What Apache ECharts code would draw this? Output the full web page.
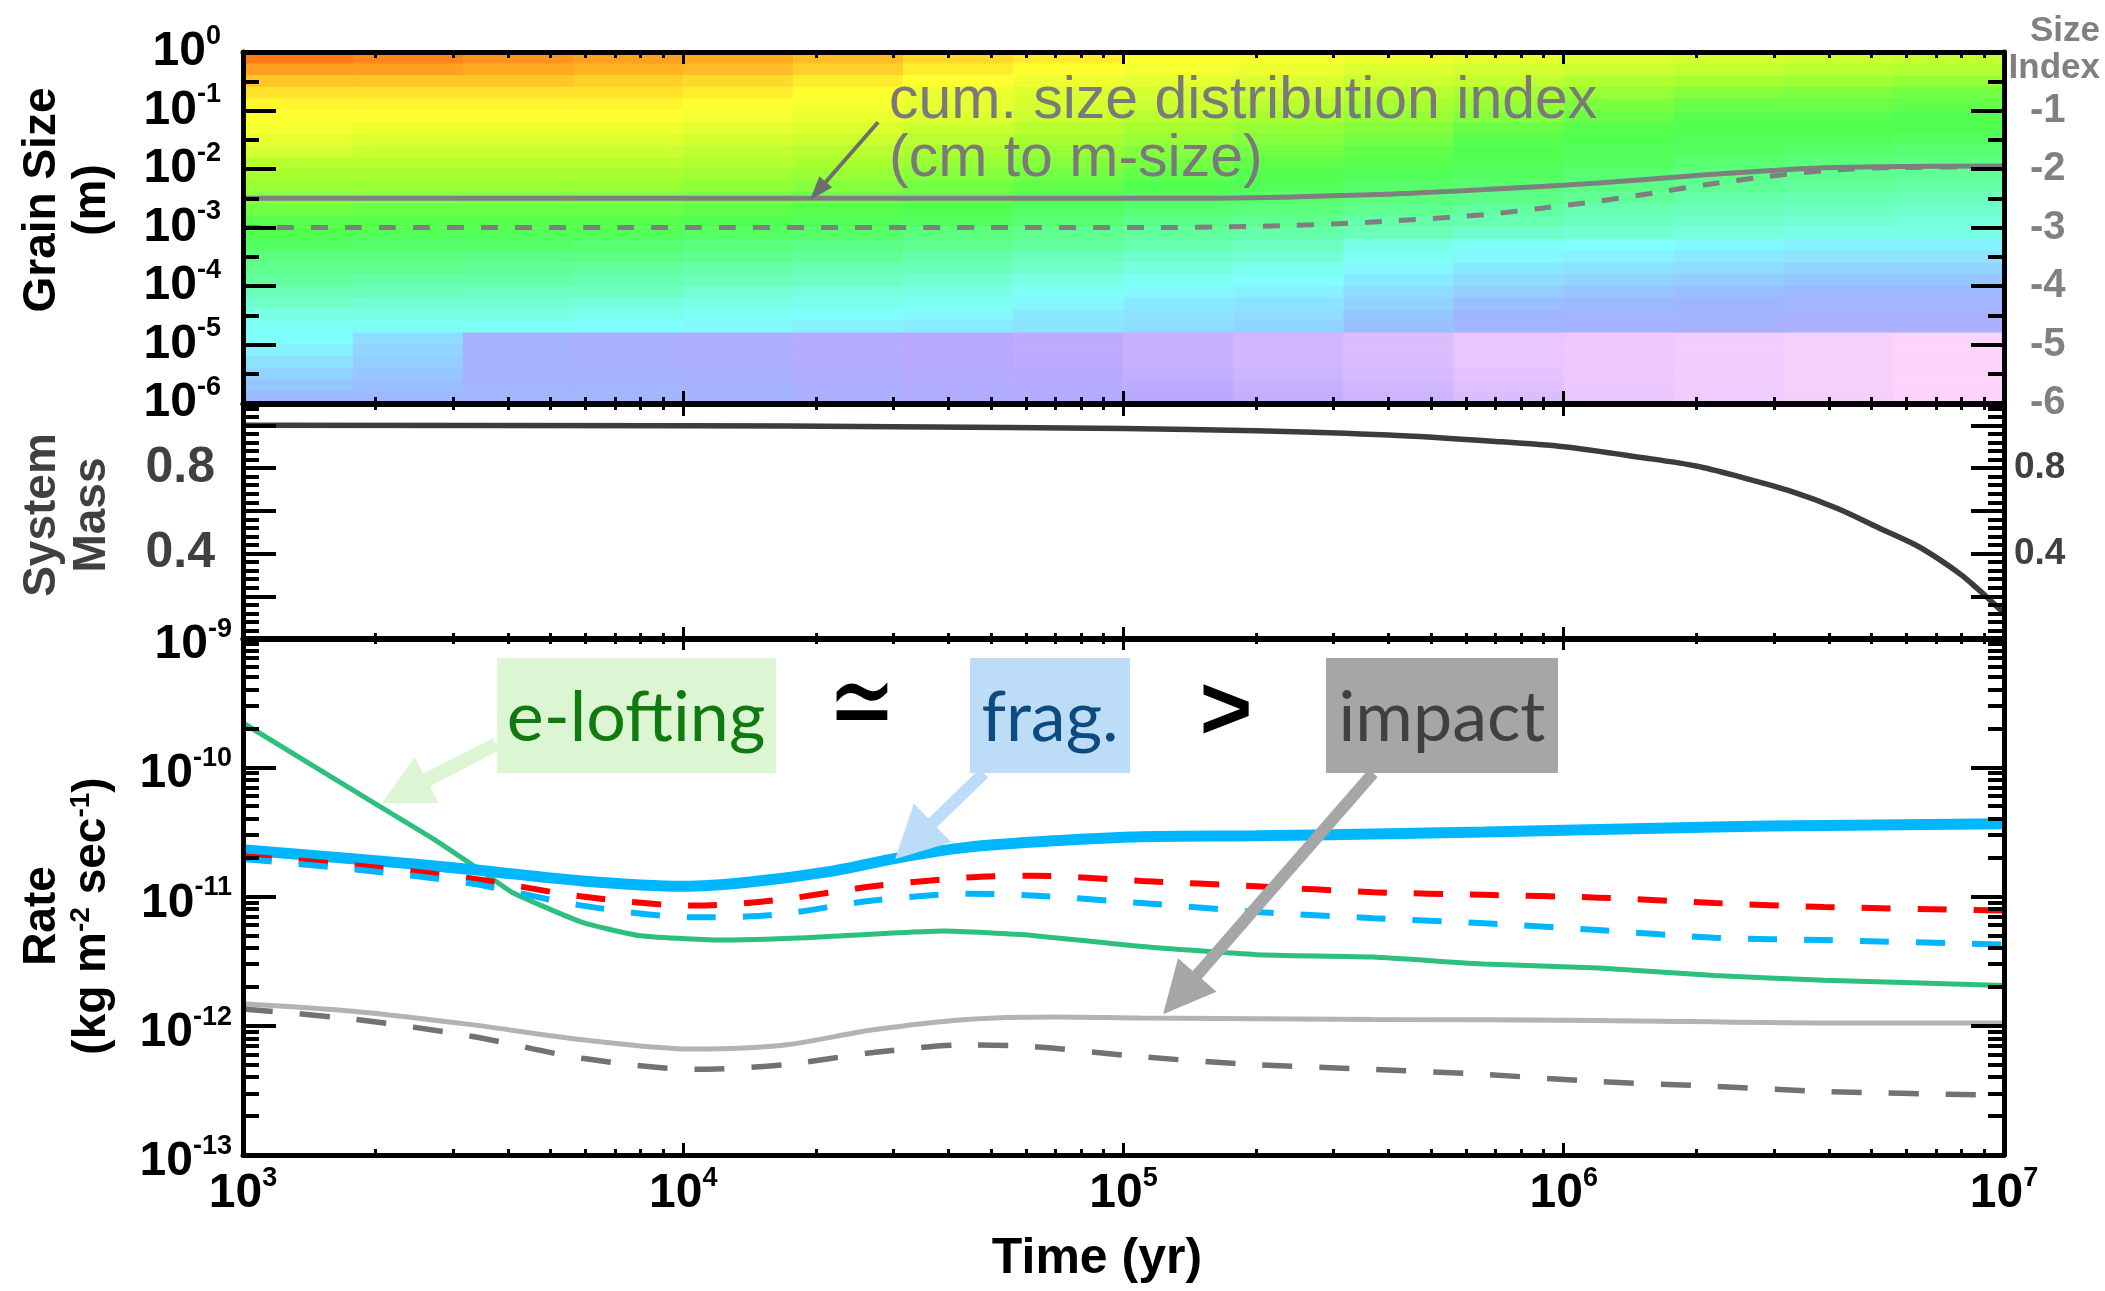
<!DOCTYPE html>
<html><head><meta charset="utf-8">
<script src="https://cdn.jsdelivr.net/npm/echarts@6/dist/echarts.min.js"></script>
<style>html,body{margin:0;padding:0;background:#fff}#c{width:2105px;height:1291px}</style>
</head><body><div id="c"></div>
<script>
// ---------------- DATA ----------------
// Grain-size map (top panel): columns = time bins (start of bin, 0.25 dex wide), rows = log10 size (m) bin centres, top -> bottom
const heatTimeBins = ['1.0e3','1.8e3','3.2e3','5.6e3','1.0e4','1.8e4','3.2e4','5.6e4','1.0e5','1.8e5','3.2e5','5.6e5','1.0e6','1.8e6','3.2e6','5.6e6'];
const heatSizeRows = ['-0.1','-0.3','-0.5','-0.7','-0.9','-1.1','-1.3','-1.5','-1.7','-1.9','-2.1','-2.3','-2.5','-2.7','-2.9',
                      '-3.1','-3.3','-3.5','-3.7','-3.9','-4.1','-4.3','-4.5','-4.7','-4.9','-5.1','-5.3','-5.5','-5.7','-5.9'];
// colour-map level read per column (top -> bottom)
const heatColumns = [
 [9.6,9.0,8.6,8.3,8.1,8.0,7.9,7.7,7.5,7.2,7.0,6.8,6.6,6.4,6.1,6.0,5.8,5.5,5.3,5.1,4.8,4.6,4.3,4.1,4.0,3.8,3.6,3.4,3.2,3.0],
 [9.4,9.0,8.6,8.3,8.1,8.0,7.8,7.6,7.4,7.2,7.0,6.8,6.6,6.3,6.1,5.9,5.7,5.5,5.3,5.0,4.8,4.5,4.3,4.1,3.5,3.4,3.3,3.2,3.1,3.0],
 [9.2,8.9,8.6,8.3,8.1,8.0,7.8,7.6,7.4,7.2,7.0,6.8,6.5,6.3,6.1,5.9,5.7,5.4,5.2,5.0,4.7,4.5,4.3,4.1,2.7,2.6,2.6,2.6,2.7,2.8],
 [9.0,8.8,8.5,8.3,8.1,8.0,7.8,7.6,7.4,7.2,7.0,6.8,6.5,6.3,6.1,5.9,5.6,5.4,5.1,4.9,4.7,4.4,4.2,4.0,2.5,2.5,2.5,2.6,2.7,2.8],
 [8.9,8.7,8.4,8.2,8.0,7.9,7.7,7.5,7.3,7.1,6.9,6.7,6.4,6.2,6.0,5.8,5.5,5.3,5.0,4.8,4.5,4.3,4.1,3.9,2.4,2.4,2.4,2.5,2.6,2.7],
 [8.7,8.5,8.2,8.0,7.9,7.8,7.6,7.4,7.2,7.0,6.8,6.6,6.3,6.1,5.9,5.7,5.4,5.2,4.9,4.7,4.4,4.2,4.0,3.8,2.2,2.2,2.2,2.3,2.4,2.5],
 [8.4,8.2,8.0,7.8,7.7,7.6,7.4,7.2,7.0,6.8,6.6,6.4,6.2,6.0,5.8,5.5,5.3,5.0,4.8,4.5,4.3,4.1,3.9,3.7,2.0,2.0,2.0,2.1,2.2,2.3],
 [8.2,8.0,7.8,7.6,7.5,7.4,7.2,7.0,6.8,6.6,6.4,6.2,6.0,5.8,5.6,5.3,5.1,4.8,4.6,4.3,4.1,3.9,3.7,3.6,1.9,1.9,1.9,2.0,2.1,2.2],
 [8.0,7.9,7.7,7.5,7.4,7.2,7.0,6.8,6.6,6.4,6.2,6.0,5.8,5.6,5.4,5.1,4.9,4.6,4.4,4.1,3.9,3.7,3.6,3.5,1.7,1.7,1.7,1.8,1.9,2.0],
 [7.9,7.8,7.6,7.4,7.2,7.0,6.8,6.6,6.4,6.2,6.0,5.9,5.7,5.5,5.3,5.0,4.7,4.5,4.2,4.0,3.8,3.6,3.5,3.4,1.5,1.5,1.5,1.6,1.7,1.8],
 [7.8,7.6,7.4,7.2,7.0,6.8,6.6,6.4,6.2,6.1,5.9,5.7,5.5,5.3,5.0,4.8,4.3,4.1,3.9,3.7,3.5,3.4,3.2,3.1,1.3,1.3,1.3,1.4,1.5,1.6],
 [7.7,7.5,7.3,7.0,6.8,6.6,6.3,6.1,6.0,5.9,5.8,5.6,5.4,5.1,4.9,4.6,4.1,3.9,3.7,3.5,3.3,3.1,2.9,2.8,1.0,1.0,1.0,1.1,1.2,1.3],
 [7.6,7.4,7.1,6.8,6.5,6.3,6.1,6.0,5.9,5.8,5.6,5.4,5.2,4.9,4.7,4.5,4.0,3.8,3.6,3.4,3.2,3.0,2.8,2.7,0.8,0.8,0.8,0.9,0.9,1.0],
 [7.5,7.3,7.0,6.6,6.3,6.1,6.0,5.9,5.8,5.6,5.4,5.2,5.0,4.8,4.6,4.4,3.9,3.7,3.5,3.3,3.1,2.9,2.7,2.6,0.6,0.6,0.6,0.6,0.7,0.7],
 [7.4,7.2,6.9,6.5,6.3,6.1,6.0,5.9,5.7,5.5,5.3,5.1,4.9,4.7,4.5,4.3,3.8,3.6,3.4,3.2,3.0,2.8,2.6,2.5,0.4,0.4,0.4,0.4,0.4,0.5],
 [7.3,7.1,6.8,6.4,6.2,6.0,6.0,5.8,5.6,5.4,5.2,5.0,4.8,4.6,4.4,4.3,3.8,3.6,3.4,3.2,3.0,2.8,2.6,2.5,0.2,0.2,0.2,0.2,0.2,0.2]
];

// cumulative size distribution index (right axis of top panel)
const idxSolidTime = [1e3, 1e4, 5e4, 1.5e5, 3.6e5, 6.6e5, 1.2e6, 2.1e6, 2.9e6, 3.9e6, 5.2e6, 1e7];
const idxSolidVal  = [-2.50, -2.50, -2.50, -2.50, -2.44, -2.35, -2.24, -2.10, -2.03, -1.98, -1.96, -1.95];
const idxDashTime  = [1e3, 1e4, 5e4, 1.1e5, 2e5, 3.6e5, 6.6e5, 8.9e5, 1.2e6, 1.6e6, 2.1e6, 2.9e6, 3.9e6, 5.2e6, 1e7];
const idxDashVal   = [-3.00, -3.00, -3.00, -3.00, -2.98, -2.91, -2.78, -2.67, -2.55, -2.41, -2.27, -2.13, -2.03, -1.98, -1.96];

// system mass (middle panel)
const massTime = [1e3, 1e4, 3e4, 1e5, 2e5, 4e5, 7e5, 1e6, 1.5e6, 2e6, 2.5e6, 3.3e6, 4.2e6, 5.2e6, 6.3e6, 7.1e6, 8e6, 8.6e6, 9.1e6, 1e7];
const massVal  = [1.0, 0.998, 0.994, 0.985, 0.975, 0.955, 0.925, 0.90, 0.85, 0.81, 0.76, 0.69, 0.61, 0.52, 0.44, 0.375, 0.30, 0.245, 0.20, 0.12];

// rates (bottom panel), kg m^-2 s^-1
const eloftTime = [1000, 2000, 2700, 3500, 4100, 5900, 7900, 12000, 19000, 39000, 62000, 1.1e5, 2e5, 3.7e5, 6.6e5, 1.2e6, 2.2e6, 3.9e6, 1e7];
const eloftRate = [2.2e-10, 5.2e-11, 2.8e-11, 1.55e-11, 1.07e-11, 6.3e-12, 5.0e-12, 4.6e-12, 4.8e-12, 5.4e-12, 5.0e-12, 4.1e-12, 3.55e-12, 3.4e-12, 3.0e-12, 2.8e-12, 2.45e-12, 2.25e-12, 2.05e-12];
const fragTime  = [1000, 1800, 3300, 5900, 10000, 14000, 22000, 31000, 44000, 70000, 1.1e5, 2e5, 3.7e5, 6.6e5, 1.2e6, 2.2e6, 3.9e6, 1e7];
const fragRate  = [2.3e-11, 1.95e-11, 1.62e-11, 1.32e-11, 1.2e-11, 1.29e-11, 1.58e-11, 2.0e-11, 2.4e-11, 2.7e-11, 2.9e-11, 2.95e-11, 3.05e-11, 3.15e-11, 3.3e-11, 3.45e-11, 3.55e-11, 3.65e-11];
const dashTime  = [1000, 1800, 3300, 5900, 10600, 16000, 27000, 44000, 62000, 1.1e5, 2e5, 3.7e5, 6.6e5, 1.2e6, 2.2e6, 3.9e6, 1e7];
const redDashRate  = [2.05e-11, 1.74e-11, 1.38e-11, 1.0e-11, 8.5e-12, 9.3e-12, 1.2e-11, 1.4e-11, 1.45e-11, 1.32e-11, 1.2e-11, 1.08e-11, 1.03e-11, 9.8e-12, 8.9e-12, 8.3e-12, 7.8e-12];
const blueDashRate = [1.95e-11, 1.62e-11, 1.26e-11, 8.5e-12, 6.9e-12, 7.2e-12, 9.3e-12, 1.05e-11, 1.02e-11, 8.9e-12, 7.6e-12, 6.8e-12, 6.2e-12, 5.5e-12, 4.8e-12, 4.6e-12, 4.25e-12];
const impactTime = [1000, 1800, 3300, 5900, 10600, 17000, 27000, 44000, 70000, 1.1e5, 3.7e5, 1.2e6, 3.9e6, 1e7];
const impactRate = [1.48e-12, 1.29e-12, 1.02e-12, 7.8e-13, 6.6e-13, 7.1e-13, 9.3e-13, 1.12e-12, 1.17e-12, 1.15e-12, 1.12e-12, 1.1e-12, 1.05e-12, 1.05e-12];
const impactDashTime = [1000, 1800, 3300, 5900, 10600, 17000, 27000, 44000, 62000, 1.1e5, 2e5, 3.7e5, 6.6e5, 1.2e6, 2.2e6, 3.9e6, 1e7];
const impactDashRate = [1.35e-12, 1.12e-12, 8.3e-13, 5.6e-13, 4.6e-13, 5.0e-13, 6.2e-13, 7.1e-13, 6.9e-13, 5.75e-13, 5.0e-13, 4.6e-13, 4.2e-13, 3.7e-13, 3.4e-13, 3.1e-13, 2.9e-13];

// ---------------- CHART ----------------
const FONT = "'Liberation Sans', Arial, sans-serif";
const pairs = (xs, ys) => xs.map((x, i) => [x, ys[i]]);
const GRID_L = 243, GRID_W = 1761;

function supRich(size, sup, color) {
  return {
    b: {fontSize: size, fontWeight: 'bold', fontFamily: FONT, color: color, lineHeight: size + 10},
    s: {fontSize: sup, fontWeight: 'bold', fontFamily: FONT, color: color, verticalAlign: 'top',
        lineHeight: Math.round(0.284 * size + 10 + 0.716 * sup)}
  };
}
const expFmt = v => '{b|10}{s|' + Math.round(Math.log10(v)) + '}';

function xAx(gridIndex, position, showLabel) {
  return {
    type: 'log', logBase: 10, gridIndex, position, min: 1e3, max: 1e7, z: 10,
    axisLine: {show: true, onZero: false, lineStyle: {color: '#000', width: 5}},
    axisTick: {show: true, inside: true, length: 12, lineStyle: {color: '#000', width: 3}},
    minorTick: {show: true, splitNumber: 9, length: 6, lineStyle: {color: '#000', width: 3}},
    splitLine: {show: false}, minorSplitLine: {show: false},
    axisLabel: {show: showLabel, margin: 10, formatter: expFmt, rich: supRich(48, 27, '#000'),
                showMinLabel: true, showMaxLabel: true, interval: 0}
  };
}
function yBase(extra) {
  return Object.assign({
    z: 10,
    axisLine: {show: true, onZero: false, lineStyle: {color: '#000', width: 5}},
    axisTick: {show: true, inside: true, length: 33, lineStyle: {color: '#000', width: 4}},
    minorTick: {show: true, length: 16, lineStyle: {color: '#000', width: 4}},
    splitLine: {show: false}, minorSplitLine: {show: false}
  }, extra);
}

const heatData = [];
heatColumns.forEach((col, c) => col.forEach((v, r) => heatData.push([c, heatSizeRows.length - 1 - r, v])));

const lineBase = {type: 'line', showSymbol: false, symbol: 'none', silent: true, z: 3, animation: false};
const massFmt = v => (Math.abs(v - 0.4) < 1e-6 || Math.abs(v - 0.8) < 1e-6) ? v.toFixed(1) : '';

const option = {
  animation: false,
  backgroundColor: '#fff',
  grid: [
    {left: GRID_L, top: 52, width: GRID_W, height: 351},
    {left: GRID_L, top: 404, width: GRID_W, height: 235},
    {left: GRID_L, top: 638, width: GRID_W, height: 517},
    {left: GRID_L, top: 52, width: GRID_W, height: 351}
  ],
  xAxis: [
    xAx(0, 'bottom', false), xAx(0, 'top', false),
    xAx(1, 'bottom', false), xAx(1, 'top', false),
    xAx(2, 'bottom', true),  xAx(2, 'top', false),
    {type: 'category', gridIndex: 3, data: heatTimeBins, show: false, boundaryGap: true}
  ],
  yAxis: [
    yBase({type: 'value', gridIndex: 0, position: 'left', min: -6, max: 0, interval: 1,
      minorTick: {show: true, splitNumber: 2, length: 16, lineStyle: {color: '#000', width: 4}},
      axisLabel: {margin: 22, formatter: v => '{b|10}{s|' + v + '}', rich: supRich(48, 27, '#000'), showMinLabel: true, showMaxLabel: true}}),
    yBase({type: 'value', gridIndex: 0, position: 'right', min: -6, max: 0, interval: 1,
      minorTick: {show: true, splitNumber: 2, length: 16, lineStyle: {color: '#000', width: 4}},
      axisLabel: {margin: 26, color: '#808080', fontSize: 40, fontWeight: 'bold', fontFamily: FONT,
                  formatter: v => (v === 0 ? '' : String(v))}}),
    yBase({type: 'value', gridIndex: 1, position: 'left', min: 0, max: 1.1, interval: 0.2,
      minorTick: {show: true, splitNumber: 5, length: 16, lineStyle: {color: '#000', width: 4}},
      axisLabel: {margin: 28, color: '#404040', fontSize: 50, fontWeight: 'bold', fontFamily: FONT, formatter: massFmt}}),
    yBase({type: 'value', gridIndex: 1, position: 'right', min: 0, max: 1.1, interval: 0.2,
      minorTick: {show: true, splitNumber: 5, length: 16, lineStyle: {color: '#000', width: 4}},
      axisLabel: {margin: 10, color: '#404040', fontSize: 37, fontWeight: 'bold', fontFamily: FONT, formatter: massFmt}}),
    yBase({type: 'log', logBase: 10, gridIndex: 2, position: 'left', min: 1e-13, max: 1e-9,
      minorTick: {show: true, splitNumber: 9, length: 16, lineStyle: {color: '#000', width: 4}},
      axisLabel: {margin: 11, padding: [14, 0, 0, 0], formatter: expFmt, rich: supRich(48, 27, '#000'), showMinLabel: true, showMaxLabel: true}}),
    yBase({type: 'log', logBase: 10, gridIndex: 2, position: 'right', min: 1e-13, max: 1e-9,
      minorTick: {show: true, splitNumber: 9, length: 16, lineStyle: {color: '#000', width: 4}},
      axisLabel: {show: false}}),
    {type: 'category', gridIndex: 3, data: heatSizeRows.slice().reverse(), show: false, boundaryGap: true}
  ],
  visualMap: {
    show: false, type: 'continuous', min: 0, max: 10, seriesIndex: 0, dimension: 2,
    inRange: {color: ['#ffd6fa', '#eac6fe', '#b8a8ff', '#9cb8ff', '#80ffff', '#64ffa8', '#50ff50', '#a8ff30', '#ffff30', '#ffa020', '#ff6010']}
  },
  series: [
    {type: 'heatmap', name: 'grain size distribution', xAxisIndex: 6, yAxisIndex: 6, data: heatData, z: 1, silent: true,
     emphasis: {disabled: true}, progressive: 0},
    Object.assign({}, lineBase, {name: 'cum. size index (cm to m-size)', xAxisIndex: 0, yAxisIndex: 1, smooth: 0.3,
      data: pairs(idxSolidTime, idxSolidVal), lineStyle: {color: '#7f7f7f', width: 5}}),
    Object.assign({}, lineBase, {name: 'cum. size index (other)', xAxisIndex: 0, yAxisIndex: 1, smooth: 0.3,
      data: pairs(idxDashTime, idxDashVal), lineStyle: {color: '#7f7f7f', width: 5, type: [17, 17]}}),
    Object.assign({}, lineBase, {name: 'System Mass', xAxisIndex: 2, yAxisIndex: 2, smooth: 0.3,
      data: pairs(massTime, massVal), lineStyle: {color: '#3c3c3c', width: 5.5}}),
    Object.assign({}, lineBase, {name: 'e-lofting', xAxisIndex: 4, yAxisIndex: 4, smooth: 0.15,
      data: pairs(eloftTime, eloftRate), lineStyle: {color: '#2dbf7d', width: 5}}),
    Object.assign({}, lineBase, {name: 'frag.', xAxisIndex: 4, yAxisIndex: 4, smooth: 0.3,
      data: pairs(fragTime, fragRate), lineStyle: {color: '#00b7ff', width: 11}}),
    Object.assign({}, lineBase, {name: 'frag. (red dashed)', xAxisIndex: 4, yAxisIndex: 4, smooth: 0.3,
      data: pairs(dashTime, redDashRate), lineStyle: {color: '#ff0000', width: 6, type: [29, 27]}}),
    Object.assign({}, lineBase, {name: 'frag. (blue dashed)', xAxisIndex: 4, yAxisIndex: 4, smooth: 0.3,
      data: pairs(dashTime, blueDashRate), lineStyle: {color: '#00b7ff', width: 6, type: [29, 27]}}),
    Object.assign({}, lineBase, {name: 'impact', xAxisIndex: 4, yAxisIndex: 4, smooth: 0.3,
      data: pairs(impactTime, impactRate), lineStyle: {color: '#b3b3b3', width: 5}}),
    Object.assign({}, lineBase, {name: 'impact (dashed)', xAxisIndex: 4, yAxisIndex: 4, smooth: 0.3,
      data: pairs(impactDashTime, impactDashRate), lineStyle: {color: '#727272', width: 5.5, type: [30, 27]}})
  ]
};

const chart = echarts.init(document.getElementById('c'), null, {renderer: 'canvas', width: 2105, height: 1291});
chart.setOption(option);

// ---------------- ANNOTATIONS ----------------
function arrowPoly(S, T, w, L, W) {
  const dx = T[0] - S[0], dy = T[1] - S[1], len = Math.hypot(dx, dy);
  const ux = dx / len, uy = dy / len, nx = -uy, ny = ux;
  const B = [T[0] - ux * L, T[1] - uy * L];
  return [
    [S[0] + nx * w / 2, S[1] + ny * w / 2], [B[0] + nx * w / 2, B[1] + ny * w / 2],
    [B[0] + nx * W / 2, B[1] + ny * W / 2], [T[0], T[1]],
    [B[0] - nx * W / 2, B[1] - ny * W / 2], [B[0] - nx * w / 2, B[1] - ny * w / 2],
    [S[0] - nx * w / 2, S[1] - ny * w / 2]
  ];
}
const P = (si, pt) => chart.convertToPixel({seriesIndex: si}, pt);
const arrow = (S, T, w, L, W, fill) => ({type: 'polygon', z: 100, silent: true, shape: {points: arrowPoly(S, T, w, L, W)}, style: {fill: fill}});
function txt(x, y, text, font, fill, extra) {
  extra = extra || {};
  return {
    type: 'text', z: 101, silent: true, x: x, y: y, rotation: extra.rotation || 0,
    scaleX: extra.scaleX || 1, scaleY: extra.scaleY || 1,
    style: Object.assign({text: text, font: font, fill: fill, align: 'center', verticalAlign: 'middle',
                          textAlign: 'center', textVerticalAlign: 'middle'}, extra.style || {})
  };
}
const box = (x, y, w, h, fill) => ({type: 'rect', z: 100, silent: true, shape: {x: x, y: y, width: w, height: h}, style: {fill: fill}});

const BOLD = s => 'bold ' + s + 'px ' + FONT;
const g = [];
// axis titles
g.push(txt(67, 200, 'Grain Size\n(m)', BOLD(46), '#000', {rotation: Math.PI / 2, style: {lineHeight: 50}}));
g.push(txt(67, 515, 'System\nMass', BOLD(46), '#404040', {rotation: Math.PI / 2, style: {lineHeight: 50}}));
g.push(txt(67, 916, 'Rate\n(kg m{s|-2} sec{s|-1})', BOLD(46), '#000', {rotation: Math.PI / 2,
  style: {lineHeight: 50, rich: {s: {fontSize: 28, fontWeight: 'bold', fontFamily: FONT, verticalAlign: 'top', lineHeight: 32}}}}));
g.push(txt(1097, 1259, 'Time (yr)', BOLD(50), '#000'));
g.push(txt(2100, 31, 'Size', BOLD(35), '#808080', {style: {align: 'right', textAlign: 'right'}}));
g.push(txt(2100, 68, 'Index', BOLD(35), '#808080', {style: {align: 'right', textAlign: 'right'}}));

// top-panel annotation
g.push(txt(889, 131, 'cum. size distribution index\n(cm to m-size)', '59px ' + FONT, '#7a7a7a',
  {style: {align: 'left', textAlign: 'left', lineHeight: 58}}));
g.push(arrow(P(1, [27700, -1.2]), P(1, [19400, -2.53]), 4, 24, 17, '#6e6e6e'));

// bottom-panel annotations
const LATO = "Lato, 'Open Sans', sans-serif";
g.push(box(497, 658, 279, 115, '#dcf6d4'));
g.push(txt(636, 718, 'e-lofting', '70px ' + LATO, '#107a10'));
g.push(box(970, 658, 160, 115, '#bddcf7'));
g.push(txt(1050, 718, 'frag.', '70px ' + LATO, '#0c4a80'));
g.push(box(1326, 658, 232, 115, '#a6a6a6'));
g.push(txt(1442, 718, 'impact', '70px ' + LATO, '#404040'));
g.push(txt(862, 710, '\u2243', "200 90px 'DejaVu Sans', sans-serif", '#000', {scaleX: 0.9, scaleY: 1.3}));
g.push(txt(1226, 714, '>', BOLD(90), '#000'));
g.push(arrow(P(4, [3760, 1.51e-10]), P(4, [2070, 5.3e-11]), 14, 50, 52, '#dcf6d4'));
g.push(arrow(P(4, [48200, 9.0e-11]), P(4, [30300, 1.95e-11]), 12, 52, 54, '#bddcf7'));
g.push(arrow(P(4, [369000, 9.0e-11]), P(4, [123000, 1.23e-12]), 12, 52, 51, '#a6a6a6'));

chart.setOption({graphic: g});
</script></body></html>
